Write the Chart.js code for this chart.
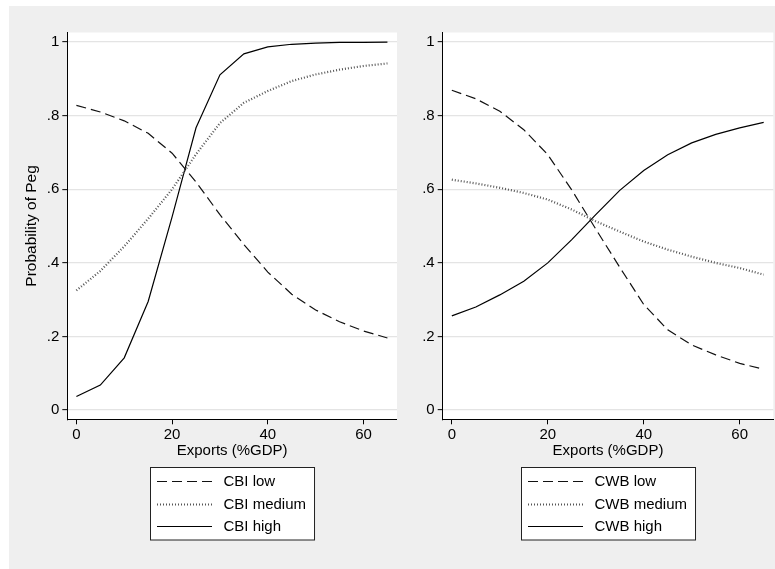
<!DOCTYPE html>
<html>
<head>
<meta charset="utf-8">
<script src="https://cdn.jsdelivr.net/npm/chart.js@4.4.0/dist/chart.umd.min.js"></script>
<style>
  html, body { margin: 0; padding: 0; background: #fff; }
  #frame { position: absolute; left: 9px; top: 6px; width: 766px; height: 563px; background: #efefef; }
  #cbiChart { position: absolute; left: 0; top: 0; }
  #cwbChart { position: absolute; left: 388px; top: 0; }
</style>
</head>
<body>
<div id="frame">
  <canvas id="cbiChart" width="388" height="563"></canvas>
  <canvas id="cwbChart" width="378" height="563"></canvas>
</div>
<script>
// ---------- Data ----------
const exportsGdp = [0, 5, 10, 15, 20, 25, 30, 35, 40, 45, 50, 55, 60, 65];

const cbiLow    = [0.828, 0.810, 0.786, 0.752, 0.698, 0.620, 0.531, 0.450, 0.375, 0.315, 0.272, 0.240, 0.215, 0.196];
const cbiMedium = [0.325, 0.378, 0.445, 0.520, 0.600, 0.695, 0.780, 0.835, 0.867, 0.894, 0.912, 0.925, 0.935, 0.942];
const cbiHigh   = [0.037, 0.068, 0.142, 0.295, 0.525, 0.767, 0.911, 0.968, 0.987, 0.994, 0.997, 0.999, 0.999, 1.000];

const cwbLow    = [0.869, 0.846, 0.812, 0.762, 0.694, 0.598, 0.492, 0.388, 0.287, 0.218, 0.177, 0.150, 0.127, 0.111];
const cwbMedium = [0.626, 0.616, 0.604, 0.590, 0.572, 0.545, 0.513, 0.485, 0.458, 0.436, 0.417, 0.400, 0.386, 0.368];
const cwbHigh   = [0.256, 0.280, 0.313, 0.350, 0.400, 0.463, 0.531, 0.597, 0.651, 0.694, 0.726, 0.749, 0.767, 0.782];

const cbiLabels = ['CBI low', 'CBI medium', 'CBI high'];
const cwbLabels = ['CWB low', 'CWB medium', 'CWB high'];

const xTicks = [0, 20, 40, 60];
const yTicks = [0, 0.2, 0.4, 0.6, 0.8, 1];
const yTickLabels = ['0', '.2', '.4', '.6', '.8', '1'];

// ---------- Defaults ----------
const FONT = '"Liberation Sans", Arial, Helvetica, sans-serif';
Chart.defaults.font.family = FONT;
Chart.defaults.font.size = 15;
Chart.defaults.color = '#000';

// low = dashed, medium = dotted, high = solid
const lineStyles = [
  { borderColor: '#111', borderWidth: 1.2, borderDash: [10, 5] },
  { borderColor: '#555', borderWidth: 2.2, borderDash: [1, 2] },
  { borderColor: '#000', borderWidth: 1.2, borderDash: [] }
];

// white plot region on the grey frame
const plotBg = {
  id: 'plotBg',
  beforeDraw(chart) {
    const { ctx, chartArea: a } = chart;
    ctx.save();
    ctx.fillStyle = '#fff';
    ctx.fillRect(a.left, a.top, a.right - a.left, a.bottom - a.top);
    ctx.restore();
  }
};

// boxed legend centred under the plot
const boxLegend = {
  id: 'boxLegend',
  afterDraw(chart, args, opts) {
    const { ctx, chartArea: a } = chart;
    const sets = chart.data.datasets;
    ctx.save();
    ctx.font = '15px ' + FONT;
    const textW = Math.max(...sets.map(d => ctx.measureText(d.label).width));
    const w = opts.padL + opts.sample + opts.gap + textW + opts.padR;
    const h = opts.rowH * sets.length + opts.padT * 2;
    const x0 = Math.round((a.left + a.right) / 2 - w / 2) + 0.5;
    const y0 = Math.round(opts.top) + 0.5;
    ctx.fillStyle = '#fff';
    ctx.fillRect(x0, y0, w, h);
    ctx.strokeStyle = '#222';
    ctx.lineWidth = 1;
    ctx.strokeRect(x0, y0, w, h);
    sets.forEach((d, i) => {
      const cy = Math.round(y0 + opts.padT + opts.rowH * (i + 0.5));
      ctx.beginPath();
      ctx.setLineDash(d.borderDash || []);
      ctx.strokeStyle = d.borderColor;
      ctx.lineWidth = d.borderWidth;
      ctx.moveTo(x0 + opts.padL, cy + 0.5);
      ctx.lineTo(x0 + opts.padL + opts.sample, cy + 0.5);
      ctx.stroke();
      ctx.setLineDash([]);
      ctx.fillStyle = '#000';
      ctx.textBaseline = 'middle';
      ctx.textAlign = 'left';
      ctx.fillText(d.label, x0 + opts.padL + opts.sample + opts.gap, cy + 1);
    });
    ctx.restore();
  }
};

function makePanel(id, labels, series, cfg) {
  const datasets = series.map((vals, i) => Object.assign({
    label: labels[i],
    data: exportsGdp.map((x, j) => ({ x, y: vals[j] })),
    pointRadius: 0,
    tension: 0,
    fill: false,
    borderCapStyle: 'butt'
  }, lineStyles[i]));

  return new Chart(document.getElementById(id), {
    type: 'line',
    data: { datasets },
    options: {
      responsive: false,
      animation: false,
      layout: { padding: { top: 26.5, bottom: 104.7, left: 0, right: cfg.padRight } },
      plugins: {
        legend: { display: false },
        tooltip: { enabled: false },
        boxLegend: { top: 461.3, padL: 6.5, sample: 55, gap: 11.5, padR: 8.5, rowH: 22.5, padT: 2.5 }
      },
      scales: {
        x: {
          type: 'linear',
          min: -1.9, max: 67,
          afterBuildTicks: s => { s.ticks = xTicks.map(v => ({ value: v })); },
          afterFit: s => { s.height = 45; },
          ticks: { padding: 1.5, maxRotation: 0, autoSkip: false },
          grid: { drawOnChartArea: false, drawTicks: true, tickLength: 5, tickColor: '#000', tickWidth: 1 },
          border: { color: '#000', width: 1 },
          title: { display: true, text: 'Exports (%GDP)', padding: { top: 0, bottom: 4.6 } }
        },
        y: {
          type: 'linear',
          min: -0.025, max: 1.026,
          afterBuildTicks: s => { s.ticks = yTicks.map(v => ({ value: v })); },
          afterFit: s => { s.width = cfg.yWidth; },
          ticks: {
            padding: 3,
            autoSkip: false,
            callback: v => yTickLabels[yTicks.indexOf(v)]
          },
          grid: { color: '#e4e4e4', lineWidth: 1.3, drawTicks: true, tickLength: 5, tickColor: '#000', tickWidth: 1 },
          border: { color: '#000', width: 1 },
          title: {
            display: !!cfg.yTitle,
            text: cfg.yTitle || '',
            font: { size: 15.5 },
            padding: { top: 13.4, bottom: 0 }
          }
        }
      }
    },
    plugins: [plotBg, boxLegend]
  });
}

makePanel('cbiChart', cbiLabels, [cbiLow, cbiMedium, cbiHigh], { yWidth: 58.3, padRight: 0, yTitle: 'Probability of Peg' });
makePanel('cwbChart', cwbLabels, [cwbLow, cwbMedium, cwbHigh], { yWidth: 45.7, padRight: 1.7 });
</script>
</body>
</html>
